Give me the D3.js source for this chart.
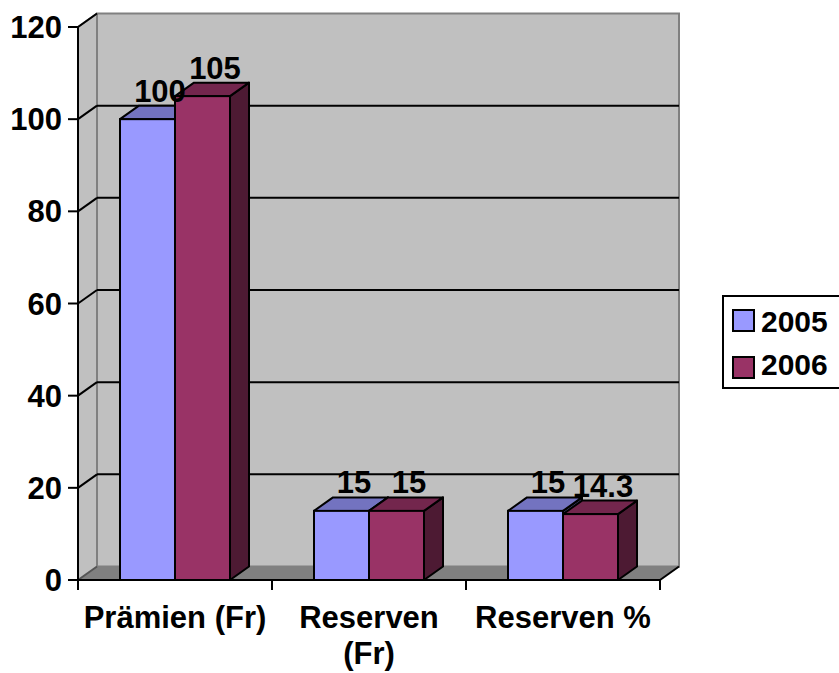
<!DOCTYPE html>
<html>
<head>
<meta charset="utf-8">
<script src="https://cdn.jsdelivr.net/npm/d3@7"></script>
<style>
  body { margin: 0; background: #fff; }
  text { font-family: "Liberation Sans", Arial, sans-serif; font-weight: bold; fill: #000; }
</style>
</head>
<body>
<div id="chart-area"></div>
<script>

// Data
let categories = ["Prämien (Fr)", "Reserven (Fr)", "Reserven %"];
let series = ["2005", "2006"];
let values2005 = [100, 15, 15];
let values2006 = [105, 15, 14.3];
let labels2005 = ["100", "15", "15"];
let labels2006 = ["105", "15", "14.3"];
let yTicks = [0, 20, 40, 60, 80, 100, 120];

let width = 839, height = 673;

let svg = d3.select("#chart-area").append("svg")
    .attr("width", width)
    .attr("height", height);

// 3d depth offset
let dx = 19, dy = 13.5;

// Scales
let x = d3.scaleBand()
    .domain(categories)
    .range([78, 660]);

let xInner = d3.scaleBand()
    .domain(series)
    .range([42, 152]);

let y = d3.scaleLinear()
    .domain([0, 120])
    .range([580, 27]);

let colors = {
  "2005": {front: "#9999ff", top: "#7373c0", side: "#4d4d80"},
  "2006": {front: "#993366", top: "#73264d", side: "#4d1a33"}
};

let x0 = x.range()[0], x1 = x.range()[1];
let y0 = y(0), yTop = y(120);

// walls
// side wall
svg.append("polygon")
    .attr("points", [[x0, yTop], [x0 + dx, yTop - dy], [x0 + dx, y0 - dy], [x0, y0]].join(" "))
    .attr("fill", "#c0c0c0");
// back wall
svg.append("rect")
    .attr("x", x0 + dx)
    .attr("y", yTop - dy)
    .attr("width", x1 - x0)
    .attr("height", y0 - yTop)
    .attr("fill", "#c0c0c0")
    .attr("stroke", "#808080")
    .attr("stroke-width", 2);
// side wall top edge
svg.append("line")
    .attr("x1", x0).attr("y1", yTop)
    .attr("x2", x0 + dx).attr("y2", yTop - dy)
    .attr("stroke", "#808080").attr("stroke-width", 2);

// gridlines on back wall
svg.append("g").selectAll("line")
    .data(yTicks.filter(d => d > 0 && d < 120))
    .enter().append("line")
    .attr("x1", x0 + dx)
    .attr("x2", x1 + dx)
    .attr("y1", d => y(d) - dy)
    .attr("y2", d => y(d) - dy)
    .attr("stroke", "#000")
    .attr("stroke-width", 2);

// diagonal ticks on side wall
svg.append("g").selectAll("line")
    .data(yTicks.filter(d => d > 0))
    .enter().append("line")
    .attr("x1", x0)
    .attr("x2", x0 + dx)
    .attr("y1", d => y(d))
    .attr("y2", d => y(d) - dy)
    .attr("stroke", "#000")
    .attr("stroke-width", 2);

// floor
svg.append("polygon")
    .attr("points", [[x0, y0], [x0 + dx, y0 - dy], [x1 + dx, y0 - dy], [x1, y0]].join(" "))
    .attr("fill", "#808080");
svg.append("line")
    .attr("x1", x0).attr("y1", y0)
    .attr("x2", x0 + dx).attr("y2", y0 - dy)
    .attr("stroke", "#555").attr("stroke-width", 2);
svg.append("line")
    .attr("x1", x1).attr("y1", y0)
    .attr("x2", x1 + dx).attr("y2", y0 - dy)
    .attr("stroke", "#000").attr("stroke-width", 2);

// bars
let barData = [];
categories.forEach(function(c, i) {
  barData.push({cat: c, s: "2005", v: values2005[i], label: labels2005[i]});
  barData.push({cat: c, s: "2006", v: values2006[i], label: labels2006[i]});
});

let bw = xInner.bandwidth();
let barGroup = svg.append("g");

barData.forEach(function(d) {
  let bx = x(d.cat) + xInner(d.s);
  let by = y(d.v);
  let g = barGroup.append("g");
  // side
  g.append("polygon")
    .attr("points", [[bx + bw, by], [bx + bw + dx, by - dy], [bx + bw + dx, y0 - dy], [bx + bw, y0]].join(" "))
    .attr("fill", colors[d.s].side)
    .attr("stroke", "#000").attr("stroke-width", 2).attr("stroke-linejoin", "round");
  // top
  g.append("polygon")
    .attr("points", [[bx, by], [bx + dx, by - dy], [bx + bw + dx, by - dy], [bx + bw, by]].join(" "))
    .attr("fill", colors[d.s].top)
    .attr("stroke", "#000").attr("stroke-width", 2).attr("stroke-linejoin", "round");
  // front
  g.append("rect")
    .attr("x", bx).attr("y", by)
    .attr("width", bw).attr("height", y0 - by)
    .attr("fill", colors[d.s].front)
    .attr("stroke", "#000").attr("stroke-width", 2);
});

// data labels
svg.append("g").selectAll("text")
    .data(barData)
    .enter().append("text")
    .attr("x", d => x(d.cat) + xInner(d.s) + bw / 2 + dx / 2 + 3)
    .attr("y", d => y(d.v) - dy - 4)
    .attr("text-anchor", "middle")
    .attr("font-size", 31)
    .text(d => d.label);

// axes lines
svg.append("line")
    .attr("x1", x0).attr("x2", x0)
    .attr("y1", yTop).attr("y2", y0)
    .attr("stroke", "#000").attr("stroke-width", 2);
svg.append("line")
    .attr("x1", x0).attr("x2", x1)
    .attr("y1", y0).attr("y2", y0)
    .attr("stroke", "#000").attr("stroke-width", 2);

// y ticks & labels
let yAxis = svg.append("g");
yAxis.selectAll("line")
    .data(yTicks)
    .enter().append("line")
    .attr("x1", x0 - 10).attr("x2", x0)
    .attr("y1", d => y(d)).attr("y2", d => y(d))
    .attr("stroke", "#000").attr("stroke-width", 2);
yAxis.selectAll("text")
    .data(yTicks)
    .enter().append("text")
    .attr("x", x0 - 16)
    .attr("y", d => y(d) + 11)
    .attr("text-anchor", "end")
    .attr("font-size", 31)
    .text(d => d);

// x ticks
let xTickPos = categories.map(c => x(c)).concat([x1]);
svg.append("g").selectAll("line")
    .data(xTickPos)
    .enter().append("line")
    .attr("x1", d => d).attr("x2", d => d)
    .attr("y1", y0).attr("y2", y0 + 10)
    .attr("stroke", "#000").attr("stroke-width", 2);

// category labels (wrapped like the original)
let catLines = [["Prämien (Fr)"], ["Reserven", "(Fr)"], ["Reserven %"]];
let xLab = svg.append("g").selectAll("text")
    .data(categories)
    .enter().append("text")
    .attr("x", d => x(d) + x.bandwidth() / 2)
    .attr("y", 628)
    .attr("text-anchor", "middle")
    .attr("font-size", 31);
xLab.each(function(d, i) {
  let t = d3.select(this);
  catLines[i].forEach(function(line, j) {
    t.append("tspan")
      .attr("x", x(d) + x.bandwidth() / 2)
      .attr("dy", j == 0 ? 0 : 36)
      .text(line);
  });
});

// legend
let legend = svg.append("g");
legend.append("rect")
    .attr("x", 723).attr("y", 296)
    .attr("width", 130).attr("height", 92)
    .attr("fill", "#fff")
    .attr("stroke", "#000").attr("stroke-width", 2);
series.forEach(function(s, i) {
  legend.append("rect")
    .attr("x", 733).attr("y", 310 + i * 47)
    .attr("width", 21).attr("height", 21)
    .attr("fill", colors[s].front)
    .attr("stroke", "#000").attr("stroke-width", 2);
  legend.append("text")
    .attr("x", 761).attr("y", 332 + i * 43)
    .attr("font-size", 30)
    .text(s);
});

</script>
</body>
</html>
